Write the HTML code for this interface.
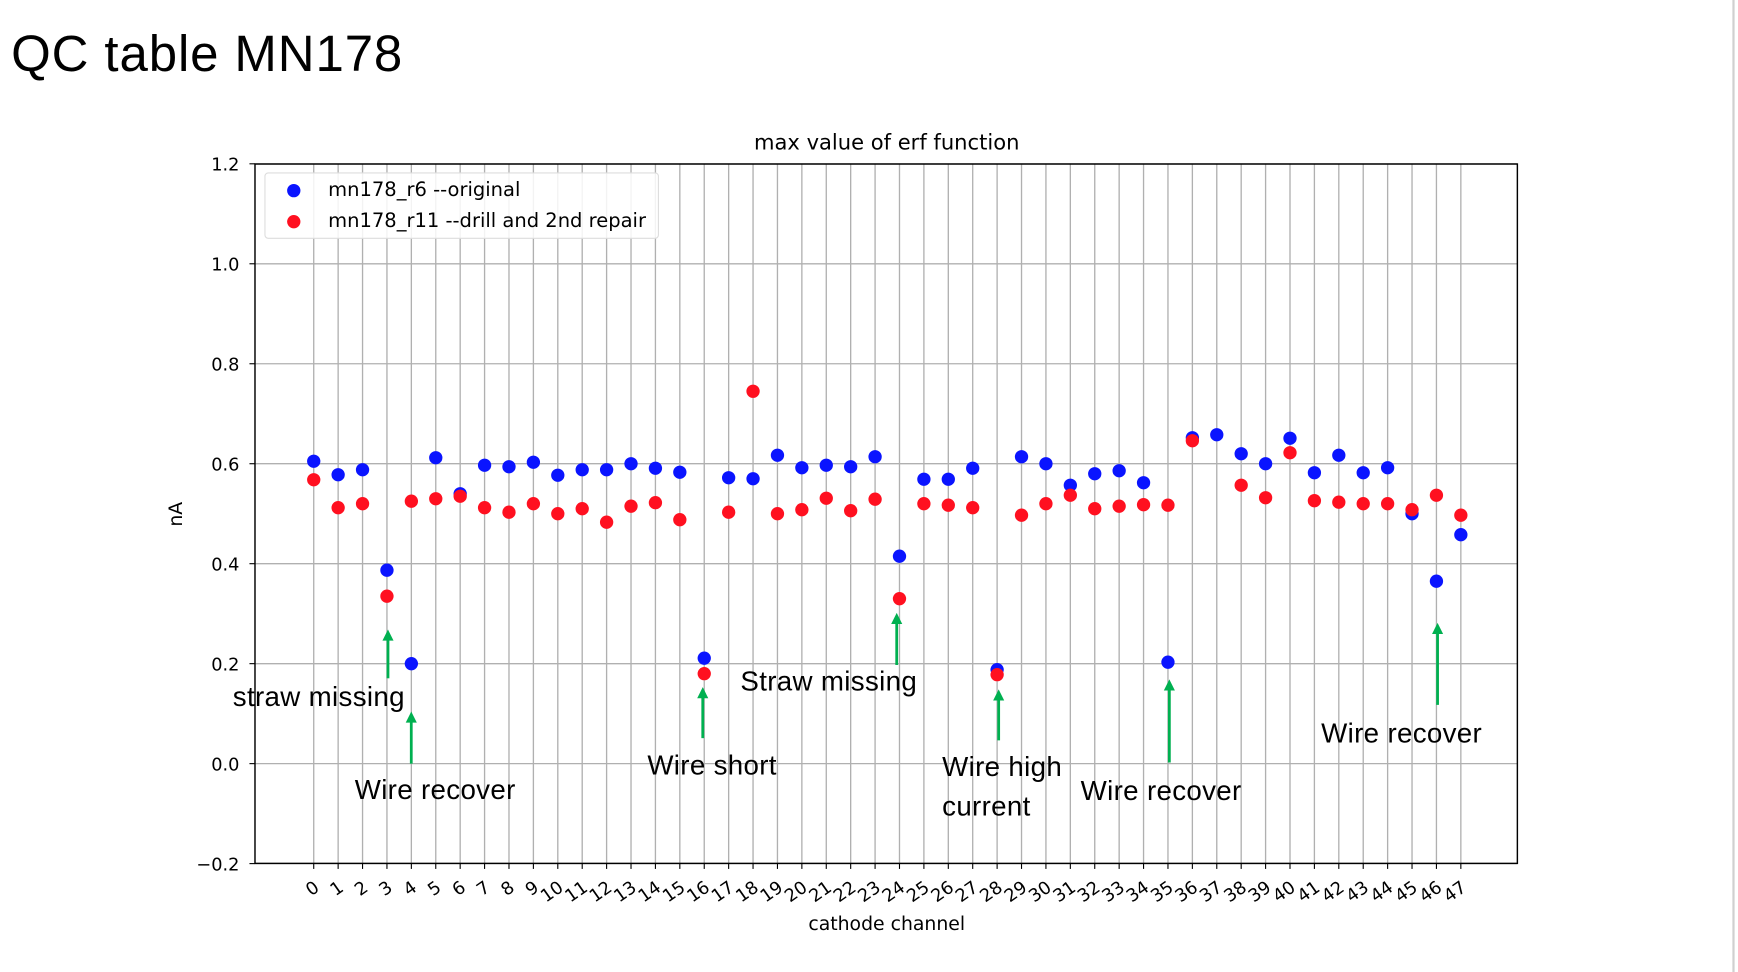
<!DOCTYPE html>
<html><head><meta charset="utf-8"><style>
html,body{margin:0;padding:0;background:#fff;}
svg{display:block;font-family:"DejaVu Sans","Liberation Sans",sans-serif;}
.ann{font-family:"Liberation Sans",sans-serif;font-size:25px;letter-spacing:0.3px;fill:#000;}
</style></head><body>
<svg id="chart" width="1738" height="972" viewBox="0 0 1568 877">
<line x1="1564" y1="0" x2="1564" y2="877" stroke="#d0d0d0" stroke-width="2"/>
<text x="10" y="64" font-family="Liberation Sans, sans-serif" font-size="46" letter-spacing="0.8">QC table MN178</text>
<text x="800" y="135" text-anchor="middle" font-size="19">max value of erf function</text>
<g id="grid"></g>
<g id="marks"></g>
<rect x="230" y="148" width="1139" height="631" fill="none" stroke="#000" stroke-width="1.3"/>
<g id="ticks"></g>
<text x="800" y="839" text-anchor="middle" font-size="17">cathode channel</text>
<text transform="translate(164,464) rotate(-90)" text-anchor="middle" font-size="17">nA</text>
<g>
<rect x="239" y="156" width="355" height="59" rx="3" fill="#fff" fill-opacity="0.85" stroke="#ddd"/>
<circle cx="265" cy="172" r="6" fill="#0a14ff"/>
<text x="296" y="177" font-size="17.6">mn178_r6 --original</text>
<circle cx="265" cy="200" r="6" fill="#ff1020"/>
<text x="296" y="205" font-size="17.6">mn178_r11 --drill and 2nd repair</text>
</g>
<g id="annotations"></g>
</svg>
<script>
const channels = Array.from({length:48},(_,i)=>i);
const blueVals = [0.605,0.578,0.588,0.387,0.200,0.612,0.540,0.597,0.594,0.603,0.577,0.588,0.588,0.600,0.591,0.583,0.211,0.572,0.570,0.617,0.592,0.597,0.594,0.614,0.415,0.569,0.569,0.591,0.188,0.614,0.600,0.557,0.580,0.586,0.562,0.203,0.652,0.658,0.620,0.600,0.651,0.582,0.617,0.582,0.592,0.500,0.365,0.458];
const redVals = [0.568,0.512,0.520,0.335,0.525,0.530,0.535,0.512,0.503,0.520,0.500,0.510,0.483,0.515,0.522,0.488,0.180,0.503,0.745,0.500,0.508,0.531,0.506,0.529,0.330,0.520,0.517,0.512,0.178,0.497,0.520,0.537,0.510,0.515,0.518,0.517,0.646,null,0.557,0.532,0.622,0.526,0.523,0.520,0.520,0.508,0.537,0.497];
const yTicks = [-0.2,0.0,0.2,0.4,0.6,0.8,1.0,1.2];
const yTickLabels = ["\u22120.2","0.0","0.2","0.4","0.6","0.8","1.0","1.2"];

const NS="http://www.w3.org/2000/svg";
const xS = c => 283 + c*(1318-283)/47;
const yS = v => 689 - v*451;
function mk(tag, attrs, parent, txt){const e=document.createElementNS(NS,tag);for(const k in attrs)e.setAttribute(k,attrs[k]);if(txt!==undefined)e.textContent=txt;parent.appendChild(e);return e;}
const grid=document.getElementById('grid'), marks=document.getElementById('marks'), ticks=document.getElementById('ticks'), ann=document.getElementById('annotations');

yTicks.forEach((t,i)=>{
  const y=yS(t);
  const g=mk('line',{x1:230,x2:1369,y1:y,y2:y,stroke:'#b0b0b0','stroke-width':1.2},grid);
  
  
  mk('line',{x1:225,x2:230,y1:y,y2:y,stroke:'#000'},ticks);
  const l=mk('text',{x:216,y:y+6,'text-anchor':'end','font-size':16},ticks,yTickLabels[i]);
  
  
});
channels.forEach(c=>{
  const x=xS(c);
  const g=mk('line',{x1:x,x2:x,y1:148,y2:779,stroke:'#b0b0b0','stroke-width':1.2},grid);
  
  
  mk('line',{x1:x,x2:x,y1:779,y2:784,stroke:'#000'},ticks);
  const l=mk('text',{transform:`translate(${x+6},${803}) rotate(-35)`,'text-anchor':'end','font-size':16},ticks,String(c));
  
  
});
channels.forEach((c,i)=>{
  if(blueVals[i]!==null){
    const p=mk('circle',{cx:xS(c),cy:yS(blueVals[i]),r:6,fill:'#0a14ff'},marks);
    
    
  }
});
channels.forEach((c,i)=>{
  if(redVals[i]!==null){
    const p=mk('circle',{cx:xS(c),cy:yS(redVals[i]),r:6,fill:'#ff1020'},marks);
    
    
  }
});
const arrows=[[350,612,568],[371,689,642],[634,666,620],[809,600,553],[901,668,622],[1055,688,613],[1297,636,562]];
arrows.forEach(a=>{
  const g=mk('g',{},ann);
  
  
  mk('line',{x1:a[0],x2:a[0],y1:a[1],y2:a[2]+8,stroke:'#00b050','stroke-width':2.5},g);
  mk('polygon',{points:`${a[0]-5},${a[2]+10} ${a[0]+5},${a[2]+10} ${a[0]},${a[2]}`,fill:'#00b050'},g);
});
const labels=[[210,637,'straw missing'],[320,721,'Wire recover'],[584,699,'Wire short'],[668,623,'Straw missing'],[850,700,'Wire high'],[850,736,'current'],[975,722,'Wire recover'],[1192,670,'Wire recover']];
labels.forEach(t=>{
  const e=mk('text',{x:t[0],y:t[1],class:'ann'},ann,t[2]);
  
  
});
</script>
</body></html>
